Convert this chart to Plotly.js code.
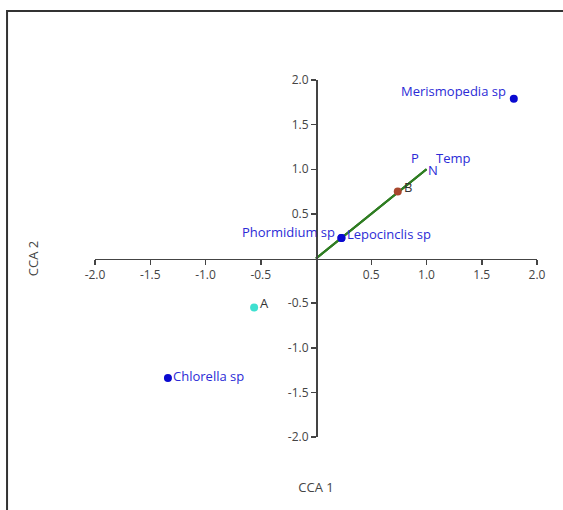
<!DOCTYPE html>
<html><head><meta charset="utf-8">
<script src="https://cdn.plot.ly/plotly-3.0.1.min.js"></script>
<style>html,body{margin:0;padding:0;background:#fff}#chart{width:563px;height:510px}</style>
</head><body><div id="chart"></div>
<script>
// Species scores
const speciesNames = ['Merismopedia sp', 'Lepocinclis sp', 'Phormidium sp', 'Chlorella sp'];
const speciesX = [1.79, 0.23, 0.23, -1.34];
const speciesY = [1.79, 0.23, 0.23, -1.34];
// Site scores
const siteNames = ['A', 'B'];
const siteX = [-0.56, 0.74];
const siteY = [-0.55, 0.75];
const siteColors = ['#3ee0d0', '#a8472e'];
// Environmental vectors
const envNames = ['P', 'N', 'Temp'];
const envX = [1.0, 1.0, 1.0];
const envY = [1.0, 1.0, 1.0];
// Axis ticks
const tickVals = [-2.0, -1.5, -1.0, -0.5, 0.5, 1.0, 1.5, 2.0];
const tickText = ['-2.0', '-1.5', '-1.0', '-0.5', '0.5', '1.0', '1.5', '2.0'];

const blue = '#2b2bd6';
const font = 'Open Sans, Noto Sans, sans-serif';
// label placement (anchor, xshift, yshift)
const speciesLabelPos = [['right', -7, 8], ['left', 5, 4], ['right', -5, 6], ['left', 4, 2]];
const siteLabelPos = [['left', 5, 5], ['left', 5, 5]];
const envLabelPos = [['center', -12, 11], ['center', 6, -1], ['center', 26, 11]];

const traces = [];
envNames.forEach((n, i) => {
  traces.push({x: [0, envX[i]], y: [0, envY[i]], mode: 'lines', line: {color: '#2f7d22', width: 2},
    hoverinfo: 'skip', showlegend: false});
});
traces.push({x: siteX, y: siteY, mode: 'markers', marker: {color: siteColors, size: 8}, showlegend: false});
traces.push({x: speciesX, y: speciesY, mode: 'markers', marker: {color: '#0a0ad0', size: 8}, showlegend: false});
traces.push({x: [], y: [], xaxis: 'x2', yaxis: 'y2', mode: 'markers', showlegend: false});

function labels(names, xs, ys, pos, color) {
  return names.map((n, i) => ({x: xs[i], y: ys[i], xref: 'x', yref: 'y', text: n, showarrow: false,
    xanchor: pos[i][0], yanchor: 'middle', xshift: pos[i][1], yshift: pos[i][2], borderpad: 0,
    font: {color: color, size: 13, family: font}}));
}
const annotations = [].concat(
  labels(envNames, envX, envY, envLabelPos, blue),
  labels(speciesNames, speciesX, speciesY, speciesLabelPos, blue),
  labels(siteNames, siteX, siteY, siteLabelPos, '#333'));

const baseTitleAxis = {range: [-2, 2], showline: false, showgrid: false, zeroline: false,
  showticklabels: false, ticks: '', fixedrange: true};
const crossAxis = {range: [-2, 2], showgrid: false, zeroline: false, showline: true, linecolor: '#444', linewidth: 1.5,
  ticks: 'outside', ticklen: 5, tickwidth: 1.5, tickcolor: '#444', tickvals: tickVals, ticktext: tickText,
  tickfont: {size: 12, color: '#444', family: font}, anchor: 'free', position: 0.5};

const layout = {
  width: 563, height: 510,
  margin: {l: 95, r: 26, t: 80, b: 73},
  paper_bgcolor: '#fff', plot_bgcolor: 'rgba(0,0,0,0)',
  font: {family: font},
  xaxis: Object.assign({}, baseTitleAxis, {title: {text: 'CCA 1', font: {size: 13, color: '#444', family: font}, standoff: 45}}),
  yaxis: Object.assign({}, baseTitleAxis, {title: {text: 'CCA 2', font: {size: 13, color: '#444', family: font}, standoff: 52}}),
  xaxis2: Object.assign({}, crossAxis, {overlaying: 'x', side: 'bottom'}),
  yaxis2: Object.assign({}, crossAxis, {overlaying: 'y', side: 'left'}),
  annotations: annotations,
  shapes: [{type: 'rect', xref: 'paper', yref: 'paper', x0: -0.199, x1: 1.3, y0: -0.3, y1: 1.193,
    line: {color: '#333', width: 2}, fillcolor: 'rgba(0,0,0,0)', layer: 'below'}],
  showlegend: false
};
Plotly.newPlot('chart', traces, layout, {displayModeBar: false, staticPlot: true});
</script></body></html>
